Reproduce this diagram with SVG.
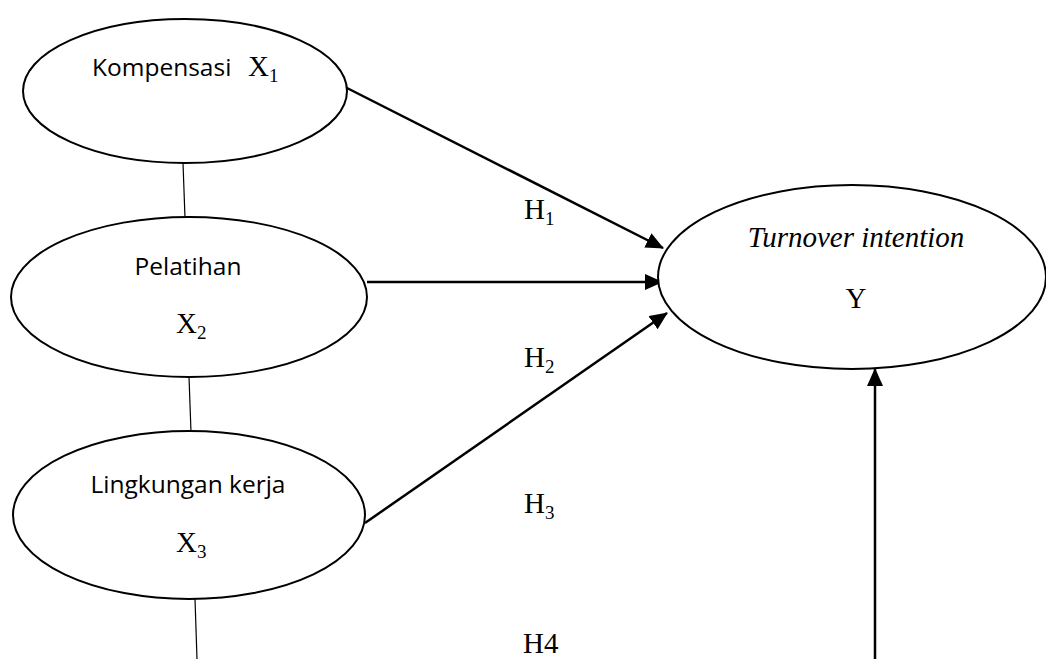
<svg xmlns="http://www.w3.org/2000/svg" width="1046" height="659" viewBox="0 0 1046 659">
<style>
.node{fill:#fff;stroke:#000;stroke-width:2}
.sans{font-family:"Open Sans","Liberation Sans",sans-serif;font-size:24.5px;fill:#000}
.serif{font-family:"Liberation Serif","Times New Roman",serif;font-size:29px;fill:#000}
.sub{font-size:19px}
.arrow{stroke:#000;stroke-width:2.5;fill:none;marker-end:url(#ah)}
.thin{stroke:#000;stroke-width:1.2;fill:none}
</style>
<defs>
<marker id="ah" markerUnits="userSpaceOnUse" markerWidth="18" markerHeight="16" refX="17" refY="8" orient="auto">
<path d="M0,0 L18,8 L0,16 Z" fill="#000"/>
</marker>
</defs>
<rect width="1046" height="659" fill="#fff"/>
<g id="connectors">
<line class="thin" x1="183" y1="163" x2="185" y2="218"/>
<line class="thin" x1="189" y1="377" x2="191" y2="432"/>
<line class="thin" x1="195" y1="599" x2="197" y2="659"/>
<line class="arrow" x1="345" y1="87" x2="663" y2="248"/>
<line class="arrow" x1="367" y1="282" x2="662" y2="282"/>
<line class="arrow" x1="365" y1="523" x2="667" y2="313"/>
<line class="arrow" x1="875" y1="659" x2="875" y2="369"/>
</g>
<g id="kompensasi">
<ellipse class="node" cx="185" cy="91" rx="162" ry="72"/>
<text class="sans" x="92" y="76">Kompensasi</text>
<text class="serif" x="248" y="76">X<tspan class="sub" dy="6">1</tspan></text>
</g>
<g id="pelatihan">
<ellipse class="node" cx="189" cy="297" rx="178" ry="80"/>
<text class="sans" x="188" y="275" text-anchor="middle">Pelatihan</text>
<text class="serif" x="176" y="333">X<tspan class="sub" dy="6">2</tspan></text>
</g>
<g id="lingkungan">
<ellipse class="node" cx="189" cy="515" rx="176" ry="84"/>
<text class="sans" x="188" y="493" text-anchor="middle">Lingkungan kerja</text>
<text class="serif" x="176" y="552">X<tspan class="sub" dy="6">3</tspan></text>
</g>
<g id="turnover">
<ellipse class="node" cx="852" cy="277" rx="194" ry="92"/>
<text class="serif" x="856" y="247" text-anchor="middle" font-style="italic">Turnover intention</text>
<text class="serif" x="856" y="308" text-anchor="middle">Y</text>
</g>
<g id="labels">
<text class="serif" x="524" y="219">H<tspan class="sub" dy="6">1</tspan></text>
<text class="serif" x="524" y="367">H<tspan class="sub" dy="6">2</tspan></text>
<text class="serif" x="524" y="513">H<tspan class="sub" dy="6">3</tspan></text>
<text class="serif" x="523" y="653">H4</text>
</g>
</svg>
